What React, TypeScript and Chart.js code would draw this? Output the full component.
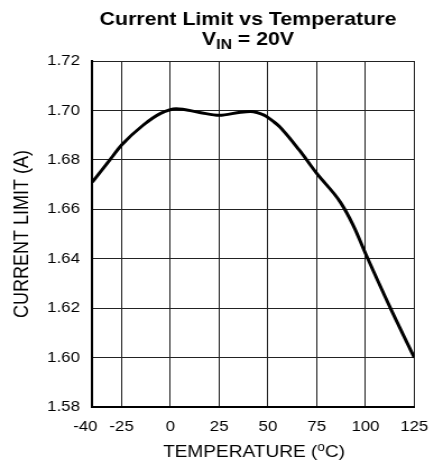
import React, { useEffect, useRef } from "react";
import { Chart, registerables } from "chart.js";

Chart.register(...registerables);

// ---- data ----
const temperatures = [-40, -31, -25, -14, -5, 3, 15, 25, 36, 41, 48, 53, 56, 66, 75, 87, 94, 100, 113, 125];
const currentLimit = [1.671, 1.68, 1.686, 1.694, 1.6988, 1.7007, 1.6992, 1.698, 1.6993, 1.6996, 1.6981, 1.6954, 1.6934, 1.684, 1.6745, 1.663, 1.653, 1.6421, 1.6196, 1.6];
const xTickValues = [-40, -25, 0, 25, 50, 75, 100, 125];
const yTickValues = [1.58, 1.6, 1.62, 1.64, 1.66, 1.68, 1.7, 1.72];
const titleLine1 = "Current Limit vs Temperature";
const titleV = "V";
const titleSub = "IN";
const titleRest = " = 20V";
const xTitleMain = "TEMPERATURE (";
const xTitleSup = "o";
const xTitleEnd = "C)";
const yTitle = "CURRENT LIMIT (A)";

// ---- layout ----
const W = 434;
const H = 468;
const K = 1.12; // horizontal stretch of the reference
const IW = Math.round(W / K);
const kx = W / IW;
const FONT = "'Liberation Sans', Arial, sans-serif";

const textPlugin = {
  id: "customText",
  afterDraw(chart: any) {
    const ctx = chart.ctx;
    ctx.save();
    ctx.fillStyle = "#000";
    ctx.textBaseline = "alphabetic";
    // title line 1
    ctx.font = `bold 19px ${FONT}`;
    ctx.textAlign = "center";
    const cx = 248 / kx;
    ctx.fillText(titleLine1, cx, 25);
    // title line 2 with subscript
    ctx.textAlign = "left";
    const big = `bold 19px ${FONT}`;
    const small = `bold 14px ${FONT}`;
    ctx.font = big;
    const wV = ctx.measureText(titleV).width;
    const wR = ctx.measureText(titleRest).width;
    ctx.font = small;
    const wS = ctx.measureText(titleSub).width;
    let x = cx - (wV + wS + wR) / 2;
    ctx.font = big;
    ctx.fillText(titleV, x, 45);
    x += wV;
    ctx.font = small;
    ctx.fillText(titleSub, x, 49);
    x += wS;
    ctx.font = big;
    ctx.fillText(titleRest, x, 45);
    // x-axis title with superscript
    const norm = `17px ${FONT}`;
    const sup = `12px ${FONT}`;
    ctx.font = norm;
    const w1 = ctx.measureText(xTitleMain).width;
    const w3 = ctx.measureText(xTitleEnd).width;
    ctx.font = sup;
    const w2 = ctx.measureText(xTitleSup).width;
    let xx = 254 / kx - (w1 + w2 + w3) / 2;
    const by = 457;
    ctx.font = norm;
    ctx.fillText(xTitleMain, xx, by);
    xx += w1;
    ctx.font = sup;
    ctx.fillText(xTitleSup, xx, by - 6);
    xx += w2;
    ctx.font = norm;
    ctx.fillText(xTitleEnd, xx, by);
    ctx.restore();
  },
};

export default function App() {
  const ref = useRef<HTMLCanvasElement | null>(null);
  useEffect(() => {
    document.body.style.margin = "0";
    const canvas = ref.current!;
    const chart = new Chart(canvas, {
      type: "line",
      data: {
        datasets: [
          {
            data: temperatures.map((t, i) => ({ x: t, y: currentLimit[i] })),
            borderColor: "#000",
            borderWidth: 3,
            pointRadius: 0,
            fill: false,
            cubicInterpolationMode: "monotone",
          },
        ],
      },
      options: {
        responsive: false,
        animation: false,
        devicePixelRatio: 1,
        layout: { padding: { top: 61, left: 0, right: (W - 414.3) / kx, bottom: 0 } },
        plugins: { legend: { display: false }, tooltip: { enabled: false }, title: { display: false } },
        scales: {
          x: {
            type: "linear",
            min: -40,
            max: 125,
            afterBuildTicks: (s: any) => {
              s.ticks = xTickValues.map((v) => ({ value: v }));
            },
            afterFit: (s: any) => {
              s.height = H - 407;
              s.paddingLeft = 0;
              s.paddingRight = 0;
            },
            ticks: {
              font: { family: FONT, size: 15 },
              color: "#000",
              padding: 11,
              maxRotation: 0,
              autoSkip: false,
              callback: (v: any) => (v === -40 ? "-40   " : String(v)),
            },
            grid: { color: "#222", lineWidth: 1, drawTicks: false },
            border: { color: "#000", width: 2 },
          },
          y: {
            type: "linear",
            min: 1.58,
            max: 1.72,
            afterBuildTicks: (s: any) => {
              s.ticks = yTickValues.map((v) => ({ value: v }));
            },
            afterFit: (s: any) => {
              s.width = 92.3 / kx;
            },
            ticks: {
              font: { family: FONT, size: 15 },
              color: "#000",
              padding: 11,
              callback: (v: any) => Number(v).toFixed(2),
            },
            grid: { color: "#222", lineWidth: 1, drawTicks: false },
            border: { color: "#000", width: 2 },
            title: {
              display: true,
              text: yTitle,
              color: "#000",
              font: { family: FONT, size: 18 },
              padding: { top: 22 / kx - 10.8, bottom: 0 },
            },
          },
        },
      },
      plugins: [textPlugin],
    } as any);
    return () => chart.destroy();
  }, []);
  return (
    <div style={{ width: W, height: H, background: "#fff" }}>
      <canvas ref={ref} width={IW} height={H} style={{ width: `${W}px`, height: `${H}px`, display: "block" }} />
    </div>
  );
}
